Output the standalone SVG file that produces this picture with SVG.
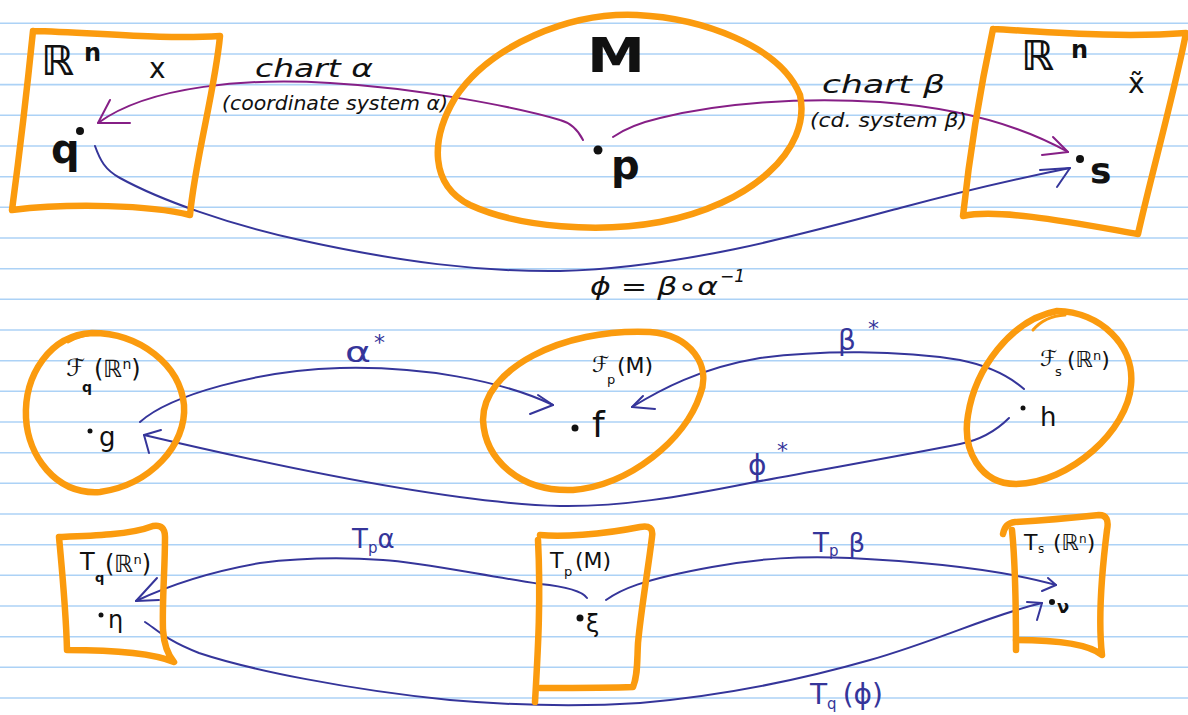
<svg xmlns="http://www.w3.org/2000/svg" width="1188" height="715" viewBox="0 0 1188 715">
<style>
.rule{stroke:#acd2f6;stroke-width:1.6}
.box{fill:none;stroke:#fb9b0e;stroke-width:6.5;stroke-linecap:round;stroke-linejoin:round}
.thin{fill:none;stroke:#fb9b0e;stroke-width:3;stroke-linecap:round}
.pc{fill:none;stroke:#861f86;stroke-width:2;stroke-linecap:round;stroke-linejoin:round}
.bc{fill:none;stroke:#35359a;stroke-width:2;stroke-linecap:round;stroke-linejoin:round}
text{font-family:"DejaVu Sans","Liberation Sans",sans-serif;fill:#111}
.big{font-weight:bold}
.lab{fill:#111;font-style:italic}
.bl{fill:#35359a}
.dot{fill:#111}
</style>
<rect width="1188" height="715" fill="#fff"/>
<g id="paper">
<line class="rule" x1="0" y1="23.3" x2="1188" y2="23.3"/>
<line class="rule" x1="0" y1="54" x2="1188" y2="54"/>
<line class="rule" x1="0" y1="84.6" x2="1188" y2="84.6"/>
<line class="rule" x1="0" y1="115.3" x2="1188" y2="115.3"/>
<line class="rule" x1="0" y1="146" x2="1188" y2="146"/>
<line class="rule" x1="0" y1="176.7" x2="1188" y2="176.7"/>
<line class="rule" x1="0" y1="207.3" x2="1188" y2="207.3"/>
<line class="rule" x1="0" y1="238" x2="1188" y2="238"/>
<line class="rule" x1="0" y1="268.7" x2="1188" y2="268.7"/>
<line class="rule" x1="0" y1="299.3" x2="1188" y2="299.3"/>
<line class="rule" x1="0" y1="330" x2="1188" y2="330"/>
<line class="rule" x1="0" y1="360.7" x2="1188" y2="360.7"/>
<line class="rule" x1="0" y1="391.3" x2="1188" y2="391.3"/>
<line class="rule" x1="0" y1="422" x2="1188" y2="422"/>
<line class="rule" x1="0" y1="452.7" x2="1188" y2="452.7"/>
<line class="rule" x1="0" y1="483.3" x2="1188" y2="483.3"/>
<line class="rule" x1="0" y1="514" x2="1188" y2="514"/>
<line class="rule" x1="0" y1="544.7" x2="1188" y2="544.7"/>
<line class="rule" x1="0" y1="575.3" x2="1188" y2="575.3"/>
<line class="rule" x1="0" y1="606" x2="1188" y2="606"/>
<line class="rule" x1="0" y1="636.7" x2="1188" y2="636.7"/>
<line class="rule" x1="0" y1="667.3" x2="1188" y2="667.3"/>
<line class="rule" x1="0" y1="698" x2="1188" y2="698"/>
</g>

<g id="connectors">
<!-- chart alpha -->
<path class="pc" d="M583,140 Q575,124 560,120 C520,108 420,88 330,83 C250,78 150,85 98,123"/>
<path class="pc" d="M110,100 L98,123 L130,123"/>
<!-- chart beta -->
<path class="pc" d="M613,137 Q630,125 660,118 C720,103 800,97 880,102 C960,108 1020,125 1068,152"/>
<path class="pc" d="M1053,137 L1068,152 L1042,155"/>
<!-- phi -->
<path class="bc" d="M95,146 C100,160 105,170 120,178 C160,200 230,225 300,240 C400,262 480,272 560,271 C680,268 800,235 900,208 C960,192 1020,178 1070,168"/>
<path class="bc" d="M1040,170 L1070,168 L1057,187"/>
<!-- alpha* -->
<path class="bc" d="M140,422 C170,395 260,370 340,368 C420,366 500,380 553,405"/>
<path class="bc" d="M538,395 L553,405 L530,414"/>
<!-- beta* -->
<path class="bc" d="M1024,389 Q1000,368 960,360 C900,350 820,350 760,358 C700,368 660,390 632,407"/>
<path class="bc" d="M643,396 L632,407 L655,409"/>
<!-- phi* -->
<path class="bc" d="M1009,418 C995,432 980,440 960,444 C900,456 830,468 750,483 C680,497 620,507 560,506 C440,503 250,460 144,435"/>
<path class="bc" d="M161,430 L144,435 L149,453"/>
<!-- Tp alpha -->
<path class="bc" d="M587,598 Q580,588 540,584 C480,575 420,562 383,560 C340,557 300,558 260,563 C220,570 180,580 136,601"/>
<path class="bc" d="M157,578 L136,601 L159,600"/>
<!-- Tp beta -->
<path class="bc" d="M606,600 C620,590 640,580 712,567 C760,558 800,556 850,558 C950,563 1010,572 1056,585"/>
<path class="bc" d="M1048,578 L1056,585 L1042,591"/>
<!-- Tq phi -->
<path class="bc" d="M145,622 C155,628 165,640 199,653 C250,670 350,690 450,700 C520,706 580,707 640,703 C720,696 800,680 870,660 C940,640 990,615 1042,603"/>
<path class="bc" d="M1027,602 L1042,603 L1037,620"/>
<!-- labels -->
<text class="lab" x="255" y="77" font-size="24" textLength="118" lengthAdjust="spacingAndGlyphs">chart α</text>
<text class="lab" x="222" y="110" font-size="19" textLength="226" lengthAdjust="spacingAndGlyphs">(coordinate system α)</text>
<text class="lab" x="822" y="93" font-size="24" textLength="123" lengthAdjust="spacingAndGlyphs">chart β</text>
<text class="lab" x="810" y="127" font-size="19" textLength="157" lengthAdjust="spacingAndGlyphs">(cd. system β)</text>
<text class="lab" x="590" y="295" font-size="25" textLength="128" lengthAdjust="spacingAndGlyphs">ϕ = β∘α</text>
<text class="lab" x="720" y="282" font-size="17">−1</text>
<text class="bl" x="345" y="362" font-size="28" textLength="26" lengthAdjust="spacingAndGlyphs">α</text>
<text class="bl" x="374" y="350" font-size="22">*</text>
<text class="bl" x="838" y="350" font-size="28">β</text>
<text class="bl" x="868" y="336" font-size="22">*</text>
<text class="bl" x="748" y="475" font-size="28">ϕ</text>
<text class="bl" x="777" y="458" font-size="22">*</text>
<text class="bl" x="352" y="548" font-size="26">T<tspan font-size="15" dy="5">p</tspan><tspan dy="-5">α</tspan></text>
<text class="bl" x="813" y="552" font-size="26">T<tspan font-size="15" dy="4">p</tspan><tspan dy="-4" dx="10">β</tspan></text>
<text class="bl" x="810" y="704" font-size="28">T<tspan font-size="15" dy="5">q</tspan><tspan dy="-5" dx="6">(ϕ)</tspan></text>
</g>

<g id="node-Rn-alpha">
<path class="box" d="M33,31 C90,32 160,40 220,36 C215,90 195,160 190,215 C150,205 70,203 12,210 C20,150 28,80 33,31"/>
<text class="big" x="41" y="75" font-size="41">ℝ<tspan x="84" y="61" font-size="24">n</tspan></text>
<text x="149" y="78" font-size="28">x</text>
<circle class="dot" cx="80" cy="131" r="4"/>
<text class="big" x="51" y="163" font-size="40">q</text>
</g>

<g id="node-M">
<path class="box" d="M637,15 C700,18 780,45 800,95 C812,150 750,205 660,222 C600,233 520,228 470,205 C430,185 430,140 455,98 C490,45 570,12 637,15 Z"/>
<text class="big" x="587" y="72" font-size="48" textLength="58" lengthAdjust="spacingAndGlyphs">M</text>
<circle class="dot" cx="598" cy="150" r="4.5"/>
<text class="big" x="611" y="179" font-size="40">p</text>
</g>

<g id="node-Rn-beta">
<path class="box" d="M993,29 C1050,32 1120,38 1186,33 C1175,90 1150,180 1138,234 C1080,224 1000,208 963,216 C970,150 980,90 993,29"/>
<text class="big" x="1021" y="70" font-size="41">ℝ<tspan x="1071" y="58" font-size="24">n</tspan></text>
<text x="1128" y="93" font-size="28">x̃</text>
<circle class="dot" cx="1080" cy="159" r="4"/>
<text class="big" x="1090" y="183" font-size="36">s</text>
</g>

<g id="node-Fq">
<path class="box" d="M92,333 C140,333 180,365 184,405 C187,445 150,485 100,492 C55,495 28,455 26,418 C24,375 50,335 92,333 Z"/>
<path class="thin" d="M68,342 Q82,334 98,334"/>
<text x="66" y="376" font-size="24">ℱ</text>
<text x="82" y="392" font-size="14" font-weight="bold">q</text>
<text x="94" y="377" font-size="24">(ℝ<tspan font-size="14" dy="-8">n</tspan><tspan dy="8">)</tspan></text>
<circle class="dot" cx="90" cy="431" r="2.5"/>
<text x="99" y="446" font-size="26">g</text>
</g>

<g id="node-Fp">
<path class="box" d="M650,332 C690,335 712,365 700,395 C685,440 630,485 573,490 C520,492 485,460 483,420 C483,370 560,328 650,332 Z"/>
<text x="592" y="372" font-size="22">ℱ</text>
<text x="607" y="384" font-size="13">p</text>
<text x="617" y="373" font-size="22">(M)</text>
<circle class="dot" cx="575" cy="428" r="3.5"/>
<text x="592" y="437" font-size="36">f</text>
</g>

<g id="node-Fs">
<path class="box" d="M1057,311 C1100,312 1135,345 1131,385 C1128,430 1070,483 1016,484 C980,484 962,450 968,415 C975,370 1010,320 1057,311 Z"/>
<path class="thin" d="M1033,330 Q1045,316 1065,315"/>
<text x="1040" y="366" font-size="22">ℱ</text>
<text x="1055" y="376" font-size="13">s</text>
<text x="1067" y="367" font-size="22">(ℝ<tspan font-size="13" dy="-7">n</tspan><tspan dy="7">)</tspan></text>
<circle class="dot" cx="1023" cy="408" r="2.5"/>
<text x="1040" y="426" font-size="26">h</text>
</g>

<g id="node-Tq">
<path class="box" d="M59,537 C90,536 130,535 153,526 Q165,524 165,537 C165,570 162,600 163,630 C164,645 168,655 174,662 C150,652 100,650 67,650 C66,610 62,570 59,537"/>
<text x="80" y="570" font-size="24">T<tspan x="95" y="582" font-size="13" font-weight="bold">q</tspan><tspan x="105" y="572">(ℝ<tspan font-size="13" dy="-8">n</tspan><tspan dy="8">)</tspan></tspan></text>
<circle class="dot" cx="101" cy="615" r="2.5"/>
<text x="108" y="628" font-size="24">η</text>
</g>

<g id="node-Tp">
<path class="box" d="M540,535 C560,537 600,535 640,527 Q654,524 652,537 C648,570 641,610 638,643 C637,660 638,675 633,687 C610,688 570,688 540,688"/>
<path class="box" d="M538,540 C541,600 538,650 535,702"/>
<text x="550" y="568" font-size="22">T<tspan x="564" y="576" font-size="13">p</tspan><tspan x="575" y="568">(M)</tspan></text>
<circle class="dot" cx="580" cy="618" r="3.5"/>
<text x="586" y="632" font-size="24">ξ</text>
</g>

<g id="node-Ts">
<path class="box" d="M1003,534 Q1005,523 1015,522 C1050,520 1080,517 1099,515 Q1110,515 1107,530 C1102,570 1098,620 1102,655 C1090,645 1060,640 1016,640"/>
<path class="box" d="M1012,530 C1016,570 1016,610 1016,650"/>
<text x="1024" y="550" font-size="22">T<tspan x="1038" y="553" font-size="12">s</tspan><tspan x="1053" y="550">(ℝ<tspan font-size="12" dy="-7">n</tspan><tspan dy="7">)</tspan></tspan></text>
<circle class="dot" cx="1052" cy="602" r="3"/>
<text class="big" x="1057" y="613" font-size="18">ν</text>
</g>
</svg>
